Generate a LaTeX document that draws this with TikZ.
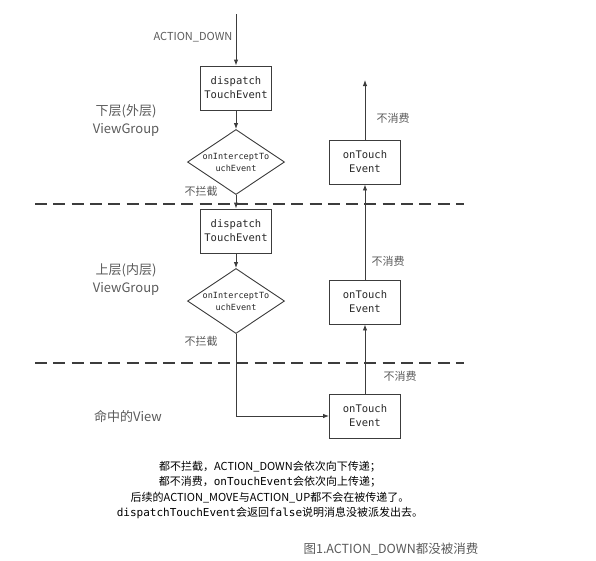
\documentclass[tikz,border=0pt]{standalone}
\usepackage{fontspec}
\setmainfont{Noto Sans CJK SC}
\setmonofont{DejaVu Sans Mono}
\usepackage{tikz}
\usetikzlibrary{arrows.meta,shapes.geometric,positioning,calc}
\definecolor{evtexte}{RGB}{40,40,40}
\definecolor{evgris}{RGB}{90,90,90}
\definecolor{evtrait}{RGB}{60,60,60}

\tikzset{
  evbox/.style={rectangle, draw=evtrait, line width=0.9pt, minimum width=71pt,
                minimum height=44pt, inner sep=0pt, align=center,
                font=\ttfamily\fontsize{10.5}{14}\selectfont, text=evtexte},
  evdecision/.style={diamond, draw=evtrait, line width=0.9pt, minimum width=97pt,
                minimum height=65pt, inner sep=0pt},
  evfleche/.style={draw=evtrait, line width=0.9pt, -{Latex[length=6pt,width=4.5pt]}},
  evcouche/.style={align=center, text=evgris, font=\fontsize{13}{18}\selectfont},
  evpetit/.style={text=evgris, font=\fontsize{11}{13}\selectfont},
  evtirets/.style={draw=evtrait, line width=1.1pt, dash pattern=on 12pt off 6.3pt}
}

\begin{document}
\begin{tikzpicture}[x=1pt,y=-1pt]
  \useasboundingbox (0,0) rectangle (596,560);
  % couches
  \coordinate (sepA1) at (35,204);  \coordinate (sepA2) at (464,204);
  \coordinate (sepB1) at (35,363);  \coordinate (sepB2) at (464,363);
  \draw[evtirets] (sepA1) -- (sepA2);
  \draw[evtirets] (sepB1) -- (sepB2);

  \node[evcouche] (couche1) at (126,121) {下层(外层)\\ViewGroup};
  \node[evcouche] (couche2) at (126,280) {上层(内层)\\ViewGroup};
  \node[evcouche] (couche3) at (128,416) {命中的View};

  % descente de ACTION_DOWN
  \coordinate (depart) at (236,14);
  \node[evpetit] (actiondown) at (193,37) {ACTION\_DOWN};
  \node[evbox] (disp1) at (236,88) {dispatch\\TouchEvent};
  \node[evdecision, label={[align=center, font=\ttfamily\fontsize{8.5}{12}\selectfont,
        text=evtexte]center:onInterceptTo\\uchEvent}] (inter1) at (236,162) {};
  \node[evbox] (disp2) at (236,231) {dispatch\\TouchEvent};
  \node[evdecision, label={[align=center, font=\ttfamily\fontsize{8.5}{12}\selectfont,
        text=evtexte]center:onInterceptTo\\uchEvent}] (inter2) at (236,301) {};
  \node[evpetit] (nonint1) at (201,191) {不拦截};
  \node[evpetit] (nonint2) at (201,341) {不拦截};

  % remontee de onTouchEvent
  \node[evbox] (touch1) at (365,162) {onTouch\\Event};
  \node[evbox] (touch2) at (365,302) {onTouch\\Event};
  \node[evbox] (touchV) at (365,416) {onTouch\\Event};
  \coordinate (sortie) at (365,80);
  \node[evpetit] (noncons1) at (393,118) {不消费};
  \node[evpetit] (noncons2) at (388,261) {不消费};
  \node[evpetit] (noncons3) at (400,376) {不消费};

  \draw[evfleche] (depart) -- (disp1);
  \draw[evfleche] (disp1) -- (inter1);
  \draw[evfleche] (inter1) -- (disp2);
  \draw[evfleche] (disp2) -- (inter2);
  \draw[evfleche] (inter2.south) |- (touchV.west);
  \draw[evfleche] (touchV) -- (touch2);
  \draw[evfleche] (touch2) -- (touch1);
  \draw[evfleche] (touch1) -- (sortie);

  % explication
  \node[align=center, text=black, font=\fontsize{11}{15.5}\selectfont] (resume) at (270,490)
    {都不拦截，ACTION\_DOWN会依次向下传递；\\
     都不消费，{\ttfamily onTouchEvent}会依次向上传递；\\
     后续的ACTION\_MOVE与ACTION\_UP都不会在被传递了。\\
     {\ttfamily dispatchTouchEvent}会返回{\ttfamily false}说明消息没被派发出去。};
  \node[text=evgris, font=\fontsize{12.5}{15}\selectfont] (legende) at (391,549)
    {图1.ACTION\_DOWN都没被消费};
\end{tikzpicture}
\end{document}
